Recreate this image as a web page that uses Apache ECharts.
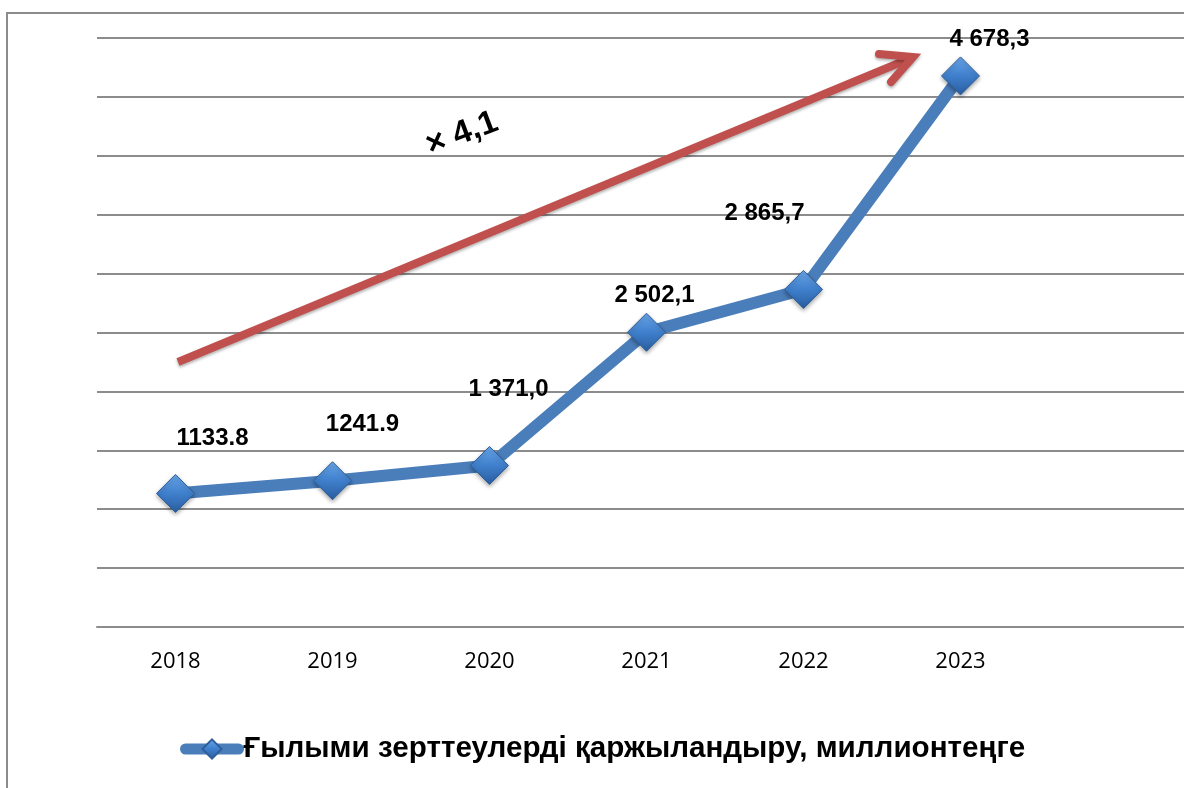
<!DOCTYPE html>
<html>
<head>
<meta charset="utf-8">
<script src="https://cdn.jsdelivr.net/npm/echarts@6/dist/echarts.min.js"></script>
<style>
  html, body { margin: 0; padding: 0; background: #fff; }
  #main { width: 1184px; height: 788px; }
</style>
</head>
<body>
<div id="main"></div>
<script>
// данные
var years = ['2018', '2019', '2020', '2021', '2022', '2023'];
var funding = [1133.8, 1241.9, 1371.0, 2502.1, 2865.7, 4678.3];
var pointLabels = ['1133.8', '1241.9', '1 371,0', '2 502,1', '2 865,7', '4 678,3'];
var seriesName = 'Ғылыми зерттеулерді қаржыландыру, миллионтеңге';

(function () {
  var myChart = echarts.init(document.getElementById('main'));

  // смещения подписей, как на картинке
  var labelOffsets = [[37, -55], [30, -56], [19, -76], [8, -37], [-39, -76], [29, -37]];

  var lineData = funding.map(function (v, i) {
    return {
      value: v,
      label: { offset: labelOffsets[i], formatter: pointLabels[i] }
    };
  });

  var option = {
    animation: false,
    grid: {
      left: 97,
      width: 1099,
      top: 38,
      bottom: 161,
      outerBoundsMode: 'none'
    },
    legend: {
      bottom: 19,
      left: 175,
      itemWidth: 53,
      itemHeight: 24,
      lineStyle: { width: 11, cap: 'round' },
      textStyle: {
        fontFamily: 'Liberation Sans',
        fontWeight: 'bold',
        fontSize: 29.6,
        color: '#000'
      },
      data: [seriesName]
    },
    xAxis: {
      type: 'category',
      data: years.concat(['']),
      axisTick: { show: false },
      axisLine: { lineStyle: { color: '#8c8c8c', width: 2 } },
      axisLabel: {
        color: '#000',
        fontFamily: 'Open Sans',
        fontSize: 22,
        margin: 24
      }
    },
    yAxis: {
      type: 'value',
      min: 0,
      max: 5000,
      interval: 500,
      axisLabel: { show: false },
      axisLine: { show: false },
      axisTick: { show: false },
      splitLine: { lineStyle: { color: '#8c8c8c', width: 2 } }
    },
    series: [
      {
        name: seriesName,
        type: 'line',
        data: lineData,
        symbol: 'diamond',
        symbolSize: 38,
        lineStyle: { color: '#4a7ebb', width: 12 },
        itemStyle: {
          color: new echarts.graphic.LinearGradient(0, 0, 0, 1, [
            { offset: 0, color: '#6aa7ea' },
            { offset: 0.5, color: '#3f7fcc' },
            { offset: 1, color: '#2a5e9f' }
          ]),
          borderColor: '#2f5f9a',
          borderWidth: 1,
          shadowColor: 'rgba(0,0,0,0.35)',
          shadowBlur: 4,
          shadowOffsetY: 2
        },
        label: {
          show: true,
          position: 'inside',
          color: '#000',
          fontFamily: 'Liberation Sans',
          fontWeight: 'bold',
          fontSize: 24
        },
        z: 3
      }
    ],
    graphic: [
      // рамка
      {
        type: 'polyline',
        shape: { points: [[7, 800], [7, 13], [1200, 13]] },
        style: { stroke: '#8c8c8c', lineWidth: 2, fill: null },
        silent: true
      },
      // красная стрелка
      {
        type: 'polyline',
        shape: { points: [[178, 362], [911, 58]] },
        style: { stroke: '#c0504d', lineWidth: 8, fill: null, lineCap: 'butt',
                 shadowColor: 'rgba(0,0,0,0.3)', shadowBlur: 3, shadowOffsetY: 2 },
        z: 2
      },
      {
        type: 'polyline',
        shape: { points: [[879, 54], [913, 57], [891, 82]] },
        style: { stroke: '#c0504d', lineWidth: 8, fill: null, lineCap: 'round', lineJoin: 'miter',
                 shadowColor: 'rgba(0,0,0,0.3)', shadowBlur: 3, shadowOffsetY: 2 },
        z: 2
      },
      {
        type: 'text',
        x: 462,
        y: 134,
        rotation: 0.36,
        style: {
          text: '× 4,1',
          fontFamily: 'Liberation Sans',
          fontWeight: 'bold',
          fontSize: 33,
          fill: '#000',
          align: 'center',
          verticalAlign: 'middle'
        },
        z: 4
      }
    ]
  };

  myChart.setOption(option);
  window.addEventListener('resize', function () {
    myChart.resize();
  });
})();
</script>
</body>
</html>
